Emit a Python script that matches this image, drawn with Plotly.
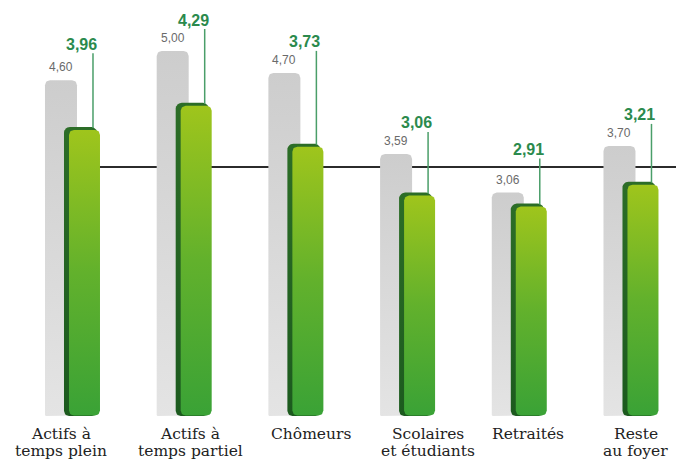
import numpy as np
import plotly.graph_objects as go

# --- data -----------------------------------------------------------------
categories = [
    ["Actifs à", "temps plein"],
    ["Actifs à", "temps partiel"],
    ["Chômeurs"],
    ["Scolaires", "et étudiants"],
    ["Retraités"],
    ["Reste", "au foyer"],
]
valeurs_reference = [4.60, 5.00, 4.70, 3.59, 3.06, 3.70]   # grey bars
valeurs = [3.96, 4.29, 3.73, 3.06, 2.91, 3.21]              # green bars
moyenne_ensemble = 3.41                                      # horizontal line

# --- geometry (pixels) ----------------------------------------------------
W, H = 676, 463
M_T, M_B = 16, 47
X_RANGE = [-0.640, 5.412]
PLOT_H = H - M_T - M_B
PXX = W / (X_RANGE[1] - X_RANGE[0])       # px per x unit
Y_TOP = PLOT_H / 73.0
PXY = PLOT_H / Y_TOP                       # px per y unit

GREY_L, GREY_R = -26.5, 5.5                # grey bar edges from category centre
GREEN_L, GREEN_R = -7.5, 28.5              # green bar edges
SIDE_W = 5                                 # dark side face width
RIM_H = 3                                  # dark top rim height
LEADER_X = 21.5                            # leader line offset
GREEN_LABEL_X = 10
GREEN_LABEL_UP = 31                        # px above grey bar top
green_label_lift = [5, 0, 0, 0, 12, 0]
label_xshift = [-10.5, 7, 16, 21, 10, 6]


def fmt(v):
    return f"{v:.2f}".replace(".", ",")


def rounded_bar(xc, left_px, right_px, y0, y1, rt, rb, n=8):
    """Polygon (data units) of a bar with rounded corners."""
    h = (y1 - y0) * PXY
    rt = min(rt, h / 2)
    rb = min(rb, h / 2)
    pts = []

    def arc(cx, cy, r, a0, a1):
        for a in np.linspace(np.radians(a0), np.radians(a1), n):
            pts.append((cx + r * np.cos(a), cy + r * np.sin(a)))

    arc(left_px + rb, rb, rb, 180, 270)
    arc(right_px - rb, rb, rb, 270, 360)
    arc(right_px - rt, h - rt, rt, 0, 90)
    arc(left_px + rt, h - rt, rt, 90, 180)
    pts.append(pts[0])
    xs = [xc + p[0] / PXX for p in pts]
    ys = [y0 + p[1] / PXY for p in pts]
    return xs, ys


fig = go.Figure()
positions = np.arange(len(categories))

for i, (ref, val) in enumerate(zip(valeurs_reference, valeurs)):
    xc = positions[i]
    # grey bar
    xs, ys = rounded_bar(xc, GREY_L, GREY_R, 0, ref, 5, 1)
    fig.add_trace(go.Scatter(
        x=xs, y=ys, mode="lines", fill="toself", line=dict(width=0),
        fillcolor="#d6d6d6",
        fillgradient=dict(type="vertical",
                          colorscale=[[0, "#e4e4e4"], [1, "#cdcdcd"]]),
        hoverinfo="skip"))
    # dark side / rim of the green bar
    xs, ys = rounded_bar(xc, GREEN_L, GREEN_R - 3, 0, val, 6, 5)
    fig.add_trace(go.Scatter(
        x=xs, y=ys, mode="lines", fill="toself", line=dict(width=0),
        fillcolor="#1f5e22",
        fillgradient=dict(type="vertical",
                          colorscale=[[0, "#1c5a1e"], [1, "#2c6d27"]]),
        hoverinfo="skip"))
    # green front face
    xs, ys = rounded_bar(xc, GREEN_L + SIDE_W, GREEN_R, 0.5 / PXY,
                         val - RIM_H / PXY, 5, 5)
    fig.add_trace(go.Scatter(
        x=xs, y=ys, mode="lines", fill="toself", line=dict(width=0),
        fillcolor="#6bb42a",
        fillgradient=dict(type="vertical",
                          colorscale=[[0, "#3aa236"], [0.5, "#62b12c"],
                                      [1, "#9fc51c"]]),
        hoverinfo="skip"))

# leader lines from green bar tops to their labels
lx, ly = [], []
for i, (ref, val) in enumerate(zip(valeurs_reference, valeurs)):
    x = positions[i] + LEADER_X / PXX
    top = ref + (GREEN_LABEL_UP + green_label_lift[i] - 9) / PXY
    lx += [x, x, None]
    ly += [val - 1 / PXY, top, None]
fig.add_trace(go.Scatter(x=lx, y=ly, mode="lines",
                         line=dict(color="#4a9e69", width=1.5),
                         hoverinfo="skip"))

annotations = []
for i, (ref, val) in enumerate(zip(valeurs_reference, valeurs)):
    # grey value
    annotations.append(dict(
        x=positions[i] + (GREY_L + GREY_R) / 2 / PXX, y=ref, xref="x", yref="y",
        text=fmt(ref), showarrow=False, yanchor="middle", yshift=13,
        font=dict(family="Liberation Sans, Arial, sans-serif", size=12,
                  color="#6a6a6a")))
    # green value
    annotations.append(dict(
        x=positions[i] + GREEN_LABEL_X / PXX, y=ref, xref="x", yref="y",
        text=f"<b>{fmt(val)}</b>", showarrow=False, yanchor="middle",
        yshift=GREEN_LABEL_UP + green_label_lift[i],
        font=dict(family="Liberation Sans, Arial, sans-serif", size=16,
                  color="#2b8a4d")))
    # category label, one annotation per line for tight leading
    for k, line in enumerate(categories[i]):
        annotations.append(dict(
            x=positions[i], y=0, xref="x", yref="paper", text=line,
            showarrow=False, yanchor="middle", xshift=label_xshift[i],
            yshift=-18 - 17 * k, borderpad=0,
            font=dict(family="DejaVu Serif, serif", size=15.5,
                      color="#222222")))

fig.update_layout(
    width=W, height=H, autosize=False,
    margin=dict(l=0, r=0, t=M_T, b=M_B, pad=0),
    paper_bgcolor="white", plot_bgcolor="white",
    showlegend=False,
    xaxis=dict(range=X_RANGE, visible=False, fixedrange=True),
    yaxis=dict(range=[0, Y_TOP], visible=False, fixedrange=True),
    annotations=annotations,
    shapes=[dict(type="line", xref="x", yref="y", layer="below",
                 x0=0, x1=X_RANGE[1], y0=moyenne_ensemble, y1=moyenne_ensemble,
                 line=dict(color="#2b2b2b", width=2))],
)

fig.write_html("out.html")
